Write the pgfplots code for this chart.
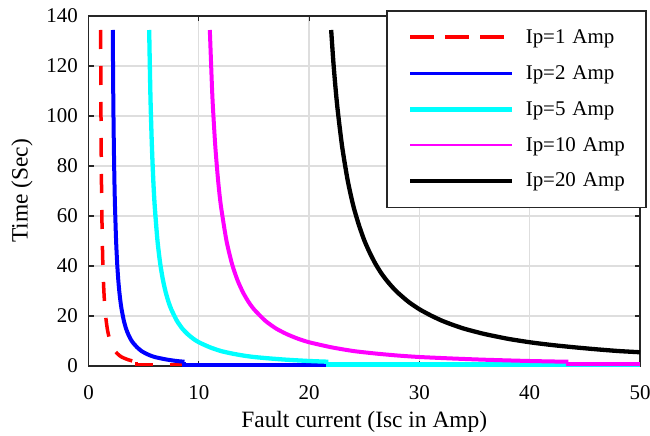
\documentclass[border=0pt]{standalone}
\usepackage{fontspec}
\setmainfont{Liberation Serif}
\usepackage{pgfplots}
\pgfplotsset{compat=1.18}
\definecolor{axgray}{RGB}{38,38,38}
\definecolor{gridgray}{RGB}{222,222,222}
\definecolor{cR}{RGB}{255,0,0}
\definecolor{cB}{RGB}{0,0,255}
\definecolor{cC}{RGB}{0,255,255}
\definecolor{cM}{RGB}{255,0,255}
\begin{document}
\begin{tikzpicture}
\begin{axis}[name=ax, scale only axis, width=551.5bp, height=350bp,
  xmin=0, xmax=50, ymin=0, ymax=140,
  xtick={0,10,...,50}, ytick={0,20,...,140},
  grid=major, major grid style={gridgray, line width=1.3bp},
  axis line style={axgray, line width=1.6bp},
  tick align=inside, major tick length=5bp, tick style={axgray, line width=1.2bp},
  clip=false,
  /pgf/number format/assume math mode=true,
  tick label style={font=\fontsize{21}{25}\selectfont, text=black},
  xticklabel style={anchor=center, yshift=-27bp},
  yticklabel style={anchor=east, inner sep=0pt, xshift=-10.5bp},
  xlabel={Fault current (Isc in Amp)}, ylabel={Time (Sec)},
  every axis x label/.style={at={(axis description cs:0.5,0)}, anchor=center, yshift=-55.5bp, font=\fontsize{23.5}{28}\selectfont},
  every axis y label/.style={at={(axis description cs:0,0.5)}, xshift=-66.5bp, rotate=90, anchor=center, font=\fontsize{23.5}{28}\selectfont},
  legend style={at={(axis description cs:1,1)}, anchor=north east, xshift=6.7bp, yshift=6bp,
    draw=axgray, line width=1.8bp, fill=white, inner xsep=21bp, inner ysep=16.6bp,
    row sep=15.85bp, column sep=11bp,
    nodes={inner sep=0pt, text height=16bp, text depth=4bp, text width=99bp, font=\fontsize{21}{25}\selectfont}},
  legend cell align=left,
  legend image code/.code={\draw[#1, line cap=butt] (0bp,0bp) -- (102bp,0bp);},
]
\addlegendimage{cR, line width=4bp, dash pattern=on 24bp off 11bp}
\addlegendimage{cB, line width=2.7bp}
\addlegendimage{cC, line width=4.7bp}
\addlegendimage{cM, line width=2bp}
\addlegendimage{black, line width=4bp}
% Ip = 1 A : step to the instantaneous level, then the curve
\addplot[forget plot, cR, line width=3.5bp, dash pattern=on 19bp off 17bp] coordinates {(4.35,1.7)(4.35,0.7)(50,0.7)};
\addplot[forget plot, cR, line width=3.5bp, dash pattern=on 19bp off 17bp, smooth, tension=0.4] coordinates {
(1.1,134.4)(1.12,111.0)(1.13,102.0)(1.15,87.6)(1.175,74.2)(1.2,64.2)(1.25,50.3)(1.3,41.0)(1.35,34.4)(1.4,29.5)(1.45,25.7)(1.5,22.7)(1.6,18.2)(1.7,15.0)(1.8,12.7)(1.9,10.9)(2.0,9.5)(2.2,7.5)(2.4,6.0)(2.6,5.0)(2.8,4.2)(3.0,3.6)(3.3,3.0)(3.6,2.5)(4.0,2.0)(4.35,1.7)};
% Ip = 2 A
\addplot[forget plot, cB, line width=4bp] coordinates {(8.7,1.7)(8.7,0.5)(50,0.5)};
\addplot[forget plot, cB, line width=4bp, smooth, tension=0.4] coordinates {
(2.2,134.4)(2.24,111.0)(2.26,102.0)(2.3,87.6)(2.35,74.2)(2.4,64.2)(2.5,50.3)(2.6,41.0)(2.7,34.4)(2.8,29.5)(2.9,25.7)(3.0,22.7)(3.2,18.2)(3.4,15.0)(3.6,12.7)(3.8,10.9)(4.0,9.5)(4.4,7.5)(4.8,6.0)(5.2,5.0)(5.6,4.2)(6.0,3.6)(6.6,3.0)(7.2,2.5)(8.0,2.0)(8.7,1.7)};
% Ip = 5 A
\addplot[forget plot, cC, line width=4.3bp] coordinates {(21.75,1.7)(21.75,0.6)(50,0.6)};
\addplot[forget plot, cC, line width=4.3bp, smooth, tension=0.4] coordinates {
(5.5,134.4)(5.6,111.0)(5.65,102.0)(5.75,87.6)(5.875,74.2)(6.0,64.2)(6.25,50.3)(6.5,41.0)(6.75,34.4)(7.0,29.5)(7.25,25.7)(7.5,22.7)(8.0,18.2)(8.5,15.0)(9.0,12.7)(9.5,10.9)(10,9.5)(11,7.5)(12,6.0)(13,5.0)(14,4.2)(15,3.6)(16.5,3.0)(18,2.5)(20,2.0)(21.75,1.7)};
% Ip = 10 A
\addplot[forget plot, cM, line width=4bp] coordinates {(43.5,1.7)(43.5,0.7)(50,0.7)};
\addplot[forget plot, cM, line width=4bp, smooth, tension=0.4] coordinates {
(11,134.4)(11.2,111.0)(11.3,102.0)(11.5,87.6)(11.75,74.2)(12,64.2)(12.5,50.3)(13,41.0)(13.5,34.4)(14,29.5)(14.5,25.7)(15,22.7)(16,18.2)(17,15.0)(18,12.7)(19,10.9)(20,9.5)(22,7.5)(24,6.0)(26,5.0)(28,4.2)(30,3.6)(33,3.0)(36,2.5)(40,2.0)(43.5,1.7)};
% Ip = 20 A
\addplot[forget plot, black, line width=4.3bp, smooth, tension=0.4] coordinates {
(22,134.4)(22.2,121.6)(22.4,111.0)(22.6,102.0)(23,87.6)(23.5,74.2)(24,64.2)(24.5,56.6)(25,50.3)(25.5,45.3)(26,41.0)(26.5,37.4)(27,34.4)(27.5,31.8)(28,29.5)(29,25.7)(30,22.7)(31,20.3)(32,18.2)(33,16.5)(34,15.0)(35,13.8)(36,12.7)(38,10.9)(40,9.5)(42,8.4)(44,7.5)(46,6.7)(48,6.0)(50,5.5)};
\legend{Ip=1 Amp, Ip=2 Amp, Ip=5 Amp, Ip=10 Amp, Ip=20 Amp}
\end{axis}
\pgfresetboundingbox
\path[use as bounding box] ([xshift=-88.5bp,yshift=-70bp]ax.south west) rectangle ([xshift=10bp,yshift=16bp]ax.north east);
\end{tikzpicture}
\end{document}
